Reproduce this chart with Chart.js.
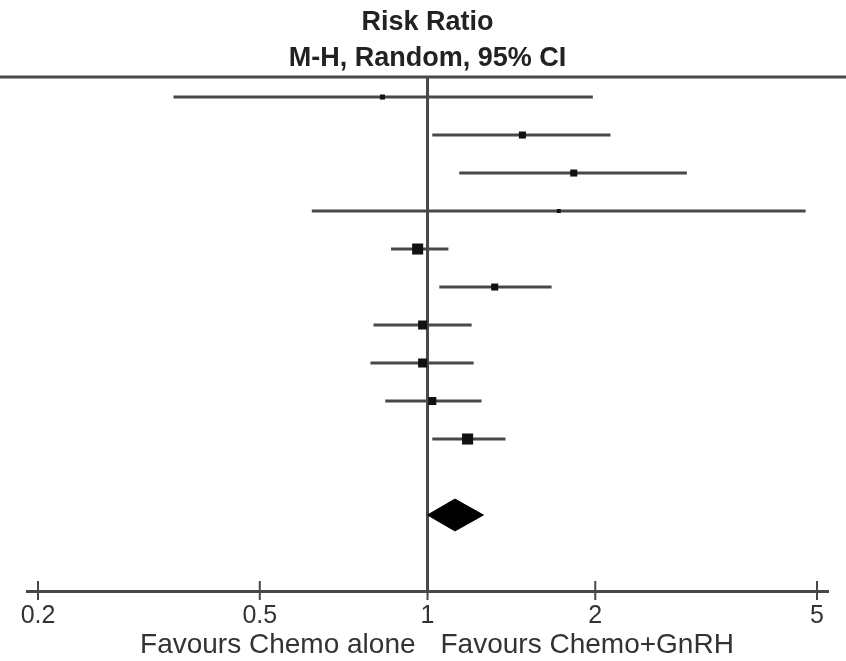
<!DOCTYPE html>
<html>
<head>
<meta charset="utf-8">
<script src="https://cdn.jsdelivr.net/npm/chart.js@4.4.1/dist/chart.umd.min.js"></script>
<style>
  html, body { margin: 0; padding: 0; background: #fff; }
  #wrap { width: 846px; height: 661px; }
</style>
</head>
<body>
<div id="wrap"><canvas id="forest" width="846" height="661"></canvas></div>
<script>
// study rows, top to bottom
const studyRows = [1, 2, 3, 4, 5, 6, 7, 8, 9, 10];
const riskRatio = [0.83, 1.48, 1.83, 1.72, 0.96, 1.32, 0.98, 0.98, 1.02, 1.18];
const ciLower = [0.35, 1.02, 1.14, 0.62, 0.86, 1.05, 0.80, 0.79, 0.84, 1.02];
const ciUpper = [1.98, 2.13, 2.92, 4.77, 1.09, 1.67, 1.20, 1.21, 1.25, 1.38];
const weights = [3.8, 7.5, 7.5, 2.4, 18.4, 7.5, 12.3, 12.3, 9.8, 18.5];

// pooled estimate (diamond)
const pooledRow = 12;
const pooledLower = 1.0;
const pooledRR = 1.12;
const pooledUpper = 1.26;

const tickValues = [0.2, 0.5, 1, 2, 5];
const titleLines = ["Risk Ratio", "M-H, Random, 95% CI"];
const favoursLeft = "Favours Chemo alone";
const favoursRight = "Favours Chemo+GnRH";

const Y_MIN = 0.47;
const Y_MAX = 14;
const LINE = "#484848";

const ciSets = studyRows.map((row, i) => ({
  data: [{ x: ciLower[i], y: row }, { x: ciUpper[i], y: row }],
  showLine: true,
  borderColor: LINE,
  borderWidth: 3,
  pointRadius: 0,
  order: 2,
}));

const forestDecor = {
  id: "forestDecor",
  afterDraw(chart) {
    const { ctx, chartArea, scales: { x } } = chart;
    ctx.save();
    ctx.strokeStyle = LINE;
    ctx.lineWidth = 3;
    // rule under the header
    ctx.beginPath();
    ctx.moveTo(0, chartArea.top);
    ctx.lineTo(chart.width, chartArea.top);
    ctx.stroke();
    // tick marks crossing the axis
    ctx.lineWidth = 2;
    x.ticks.forEach((t) => {
      const px = x.getPixelForValue(t.value);
      ctx.beginPath();
      ctx.moveTo(px, chartArea.bottom - 10);
      ctx.lineTo(px, chartArea.bottom + 9);
      ctx.stroke();
    });
    // favours labels either side of RR = 1
    const mid = x.getPixelForValue(1);
    ctx.fillStyle = "#333";
    ctx.font = "28px 'Liberation Sans', Arial, sans-serif";
    ctx.textBaseline = "alphabetic";
    ctx.textAlign = "right";
    ctx.fillText(favoursLeft, mid - 12, chart.height - 8);
    ctx.textAlign = "left";
    ctx.fillText(favoursRight, mid + 13, chart.height - 8);
    ctx.restore();
  },
};

new Chart(document.getElementById("forest"), {
  type: "scatter",
  data: {
    datasets: [
      {
        // study estimates, square size ~ weight
        data: studyRows.map((row, i) => ({ x: riskRatio[i], y: row })),
        pointStyle: "rect",
        pointRadius: weights.map((w) => Math.sqrt(w) * 1.82),
        pointBackgroundColor: "#111",
        pointBorderWidth: 0,
        order: 0,
      },
      {
        // pooled diamond
        data: [
          { x: pooledLower, y: pooledRow },
          { x: pooledRR, y: pooledRow - 0.42 },
          { x: pooledUpper, y: pooledRow },
          { x: pooledRR, y: pooledRow + 0.42 },
          { x: pooledLower, y: pooledRow },
        ],
        showLine: true,
        fill: "shape",
        backgroundColor: "#000",
        borderColor: "#000",
        borderWidth: 1,
        pointRadius: 0,
        tension: 0,
        order: 0,
      },
      ...ciSets,
      {
        // line of no effect
        data: [{ x: 1, y: Y_MIN }, { x: 1, y: Y_MAX }],
        showLine: true,
        borderColor: LINE,
        borderWidth: 3,
        pointRadius: 0,
        order: 3,
      },
    ],
  },
  options: {
    responsive: false,
    devicePixelRatio: 1,
    animation: false,
    layout: { padding: { left: 27, right: 18, top: 0, bottom: 20 } },
    scales: {
      x: {
        type: "logarithmic",
        min: 0.1911,
        max: 5.232,
        afterBuildTicks: (scale) => {
          scale.ticks = tickValues.map((v) => ({ value: v }));
        },
        grid: { display: false, drawTicks: false },
        border: { display: true, color: LINE, width: 3 },
        ticks: {
          padding: 10,
          color: "#333",
          font: { family: "'Liberation Sans', Arial, sans-serif", size: 25 },
          callback: (value) => `${value}`,
          autoSkip: false,
          maxRotation: 0,
        },
      },
      y: {
        display: false,
        reverse: true,
        min: Y_MIN,
        max: Y_MAX,
      },
    },
    plugins: {
      legend: { display: false },
      tooltip: { enabled: false },
      title: {
        display: true,
        fullSize: false,
        text: titleLines,
        color: "#222",
        font: { family: "'Liberation Sans', Arial, sans-serif", size: 27, weight: "bold", lineHeight: 1.35 },
        padding: { top: 4, bottom: 0 },
      },
    },
  },
  plugins: [forestDecor],
});
</script>
</body>
</html>
